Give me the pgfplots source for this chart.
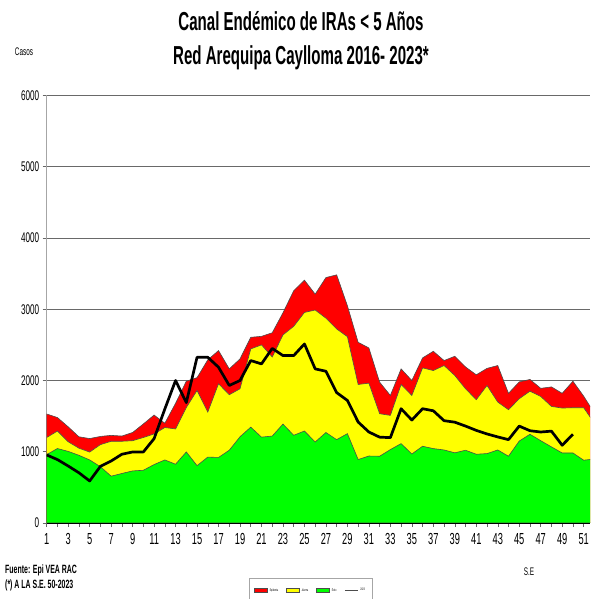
\documentclass[border=0pt]{standalone}
\usepackage{fontspec}
\setmainfont{Liberation Sans}[FakeStretch=0.58]
\usepackage{pgfplots}
\usepackage{pgfplotstable}
\pgfplotsset{compat=1.18}

\definecolor{epi}{RGB}{255,0,0}
\definecolor{ala}{RGB}{255,255,0}
\definecolor{exi}{RGB}{0,255,0}
\definecolor{gridc}{RGB}{105,105,105}

\pgfplotsset{
  boxleg/.style={legend image code/.code={\draw[##1] (0pt,-1.8pt) rectangle (13pt,1.8pt);}},
  lineleg/.style={legend image code/.code={\draw[black!70, line width=1pt] (0pt,0pt) -- (13pt,0pt);}},
}

% semana, exito (verde), alarma (amarillo), epidemia (rojo), casos 2023
\pgfplotstableread{
w  g    y    r    b
1  960  1200 1530 955
2  1045 1290 1480 890
3  1005 1140 1350 800
4  950  1050 1210 705
5  885  995  1185 590
6  790  1100 1215 795
7  657  1147 1230 870
8  695  1147 1220 965
9  731  1155 1270 997
10 740  1200 1390 997
11 820  1250 1515 1184
12 885  1340 1400 1600
13 825  1320 1680 2000
14 997  1620 1990 1690
15 805  1860 2040 2326
16 925  1557 2290 2326
17 920  1954 2420 2186
18 1021 1800 2163 1930
19 1210 1884 2303 2000
20 1345 2443 2606 2280
21 1205 2500 2620 2233
22 1220 2330 2670 2450
23 1388 2640 2950 2350
24 1231 2760 3260 2350
25 1291 2955 3408 2513
26 1137 2989 3212 2163
27 1270 2875 3445 2130
28 1170 2723 3483 1830
29 1254 2615 3049 1720
30 891  1944 2536 1417
31 940  1963 2457 1277
32 937  1534 1977 1205
33 1030 1510 1790 1198
34 1114 1944 2163 1604
35 968  1790 2000 1445
36 1077 2177 2317 1604
37 1044 2140 2410 1575
38 1025 2210 2280 1436
39 985  2070 2340 1415
40 1021 1884 2190 1360
41 965  1730 2080 1300
42 974  1930 2170 1250
43 1025 1697 2210 1208
44 937  1590 1820 1170
45 1150 1744 1980 1360
46 1245 1850 2015 1295
47 1155 1776 1890 1277
48 1068 1636 1910 1289
49 983  1613 1820 1091
50 983  1618 1990 1245
51 881  1618 1780 nan
52 898  1400 1540 nan
}\canal

\begin{document}
\begin{tikzpicture}[x=1pt,y=1pt]
\path[use as bounding box] (0,0) rectangle (590,599);
\begin{axis}[
    at={(46.7pt,76pt)}, anchor=south west,
    scale only axis, width=543.3pt, height=427.5pt,
    xmin=1, xmax=51.59, ymin=0, ymax=6000,
    axis x line*=bottom, axis y line*=left,
    x axis line style={black, line width=0.8pt},
    y axis line style={black!35, line width=0.8pt},
    xtick={1,3,...,51}, minor xtick={2,4,...,52},
    ytick={0,1000,...,6000},
    tick align=outside, major tick length=4pt, minor tick length=4pt,
    tick style={black!60, line width=0.5pt},
    ymajorgrids, grid style={gridc, line width=0.8pt},
    /pgf/number format/1000 sep={},
    /pgf/number format/assume math mode=true,
    yticklabel style={font=\fontsize{14}{14}\selectfont},
    xticklabel style={font=\fontsize{16}{16}\selectfont, yshift=-3pt},
    legend columns=4,
    legend style={at={(0.3724,-0.1287)}, anchor=north west,
        draw=black!35, fill=white, inner xsep=5pt, inner ysep=8pt,
        font=\fontsize{3.5}{4}\selectfont,
        /tikz/every even column/.append style={column sep=6pt}},
]
\addplot[draw=black!70, line width=0.6pt, fill=epi, boxleg]
    table[x=w,y=r]{\canal} \closedcycle;
\addlegendentry{Epidemia}
\addplot[draw=black!70, line width=0.6pt, fill=ala, boxleg]
    table[x=w,y=y]{\canal} \closedcycle;
\addlegendentry{Alarma}
\addplot[draw=black!70, line width=0.6pt, fill=exi, boxleg]
    table[x=w,y=g]{\canal} \closedcycle;
\addlegendentry{Éxito}
\addplot[black, line width=2.7pt, line join=round, lineleg]
    table[x=w,y=b]{\canal};
\addlegendentry{2023}
\end{axis}
\node[anchor=base, font=\bfseries\fontsize{26}{30}\selectfont] at (301,568) {Canal Endémico de IRAs < 5 Años};
\node[anchor=base, font=\bfseries\fontsize{26}{30}\selectfont] at (301,534) {Red Arequipa Caylloma 2016- 2023*};
\node[anchor=base, font=\fontsize{11}{12}\selectfont] at (24,543) {Casos};
\node[anchor=base west, inner sep=0, font=\bfseries\fontsize{12}{13}\selectfont] at (5,25) {Fuente: Epi VEA RAC};
\node[anchor=base west, inner sep=0, font=\bfseries\fontsize{12}{13}\selectfont] at (5,10) {(*) A LA S.E. 50-2023};
\node[anchor=base, font=\fontsize{11}{12}\selectfont] at (529,23) {S.E};
\end{tikzpicture}
\end{document}
